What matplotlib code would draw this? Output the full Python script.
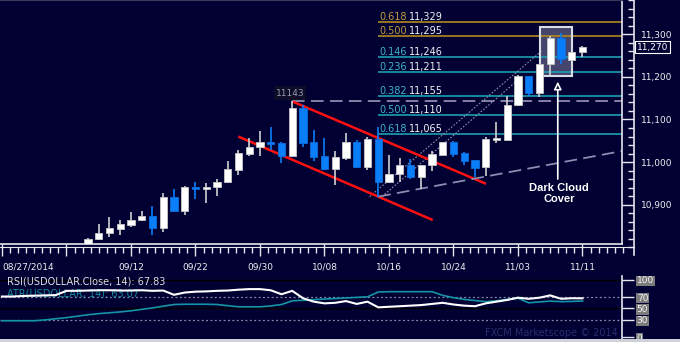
import matplotlib
matplotlib.use("Agg")
import matplotlib.pyplot as plt
import numpy as np
import pandas as pd
from matplotlib.patches import Rectangle
from matplotlib.ticker import FixedLocator, MultipleLocator, FuncFormatter

BG = "#000033"
BLUE = "#0a7df8"
W, H = 680, 342

# trading days shown on the axis; candles begin on 2014-09-08 (index 8)
days = pd.bdate_range("2014-08-27", "2014-11-11")
first_candle = 8

opens = [10805, 10819, 10834, 10844, 10853, 10863, 10874, 10845, 10919, 10885,
         10942, 10937, 10942, 10953, 10982, 11019, 11036, 11047, 11044, 11014,
         11126, 11046, 11014, 10983, 11010, 11047, 10988, 11054, 10953, 10972,
         10992, 10966, 10992, 11017, 11047, 11021, 11005, 10988, 11052, 11052,
         11134, 11201, 11163, 11230, 11291, 11240, 11259]
highs = [10821, 10855, 10872, 10864, 10883, 10886, 10897, 10927, 10936, 10943,
         10953, 10950, 10961, 11003, 11028, 11056, 11074, 11082, 11048, 11143,
         11134, 11075, 11056, 11025, 11068, 11052, 11060, 11083, 11017, 11009,
         11007, 10994, 11025, 11048, 11050, 11023, 11006, 11058, 11095, 11154,
         11205, 11202, 11231, 11296, 11302, 11271, 11272]
lows = [10798, 10816, 10823, 10829, 10847, 10862, 10829, 10837, 10884, 10876,
        10914, 10903, 10920, 10952, 10970, 11015, 11014, 11028, 10999, 11013,
        11035, 11003, 10982, 10946, 11005, 10986, 10981, 10919, 10951, 10954,
        10960, 10936, 10980, 11016, 11011, 10993, 10966, 10967, 11044, 11051,
        11132, 11155, 11152, 11201, 11230, 11239, 11246]
closes = [10820, 10834, 10845, 10855, 10864, 10874, 10846, 10919, 10885, 10942,
          10937, 10942, 10953, 10983, 11021, 11036, 11047, 11042, 11015, 11126,
          11044, 11013, 10983, 11011, 11047, 10988, 11054, 10953, 10972, 10993,
          10966, 10993, 11018, 11047, 11018, 11003, 10986, 11054, 11056, 11134,
          11201, 11163, 11230, 11291, 11241, 11259, 11270]

rsi = [71, 71, 72, 72.5, 73, 73.5, 81, 81, 81.5, 82, 82, 81.5, 81.5, 82, 81,
       81.5, 74, 78, 79.5, 80, 81, 81.5, 83, 84, 84, 82, 75, 81, 68, 62, 59,
       60, 63, 58, 62, 52, 53, 54, 55, 56, 58, 60, 57, 55, 54, 59, 62, 65, 69,
       67, 69, 73, 67, 68, 67.83]
atr = [28.5, 28.5, 28.5, 28.5, 30, 32, 34, 36.5, 39, 41, 42.5, 44, 46, 48.5,
       51, 54, 57, 57.5, 57.5, 57.5, 57, 55, 53, 53, 53, 54.5, 57, 63.5, 64.5,
       65.5, 66.5, 67.5, 68.5, 69.5, 70.5, 79, 79.5, 79.5, 79.5, 79.5, 79.5,
       73, 69, 66, 64, 62, 63.5, 66, 68, 60, 61.5, 63, 62, 62.5, 63.07]

# fibonacci levels drawn from the 10/15 low
fib_start = 35
fib_ratios = ["0.618", "0.500", "0.146", "0.236", "0.382", "0.500", "0.618"]
fib_prices = [11329, 11295, 11246, 11211, 11155, 11110, 11065]
fib_gold = [True, True, False, False, False, False, False]

swing_high_idx, swing_high = 27, 11143
channel_upper = [(27.04, 11142), (45.02, 10949)]
channel_lower = [(21.98, 11060), (40.07, 10864)]
support_line = [(35, 10919), (57.7, 11026)]
fib_diagonals = [[(34.2, 10919), (50.3, 11263)], [(35.35, 10919), (48.2, 11197)]]
pattern_box = (50.05, 53.05, 11202, 11316)
pattern_arrow = (51.7, 10960, 11189)

x_idx = np.arange(len(days))
c_idx = x_idx[first_candle:]
xlim = (-2 / 10.75, 620 / 10.75)
ylim = (10807.7, 11380.5)


def box(x0, y0, x1, y1):
    return [x0 / W, 1 - y1 / H, (x1 - x0) / W, (y1 - y0) / H]


fig = plt.figure(figsize=(6.8, 3.42), dpi=100, facecolor=BG)

ax = fig.add_axes(box(0, 0, 622, 244), facecolor=BG)
ax.set_xlim(*xlim)
ax.set_ylim(*ylim)
for side in ("left",):
    ax.spines[side].set_visible(False)
ax.spines["top"].set_color("#3a3a5c")
ax.spines["right"].set_color("#e6e6ee")
ax.spines["bottom"].set_color("#e6e6ee")
ax.spines["right"].set_linewidth(1.2)
ax.spines["bottom"].set_linewidth(1.2)

# candles
o = np.array(opens); c = np.array(closes)
up = c >= o
for mask, face, edge, wick in ((up, "white", "#c8c8c8", "#d2d2d2"),
                               (~up, BLUE, "#0a6ee0", BLUE)):
    ax.vlines(c_idx[mask], np.array(lows)[mask], np.array(highs)[mask],
              color=wick, lw=1.2, zorder=3)
    ax.bar(c_idx[mask], (c - o)[mask], bottom=o[mask], width=0.68,
           color=face, edgecolor=edge, linewidth=0.6, zorder=4)

# fibonacci lines and labels
for ratio, price, gold in zip(fib_ratios, fib_prices, fib_gold):
    lc = "#b08a1e" if gold else "#1c9fb2"
    tc = "#c49c3c" if gold else "#3cb6c8"
    ax.hlines(price, fib_start, xlim[1], color=lc, lw=1.2, zorder=2)
    ax.annotate(ratio, xy=(fib_start, price), xytext=(1, 0),
                textcoords="offset points", ha="left", va="bottom",
                fontsize=7, color=tc, zorder=5)
    ax.annotate(f"{price:,}", xy=(fib_start, price), xytext=(22, 0),
                textcoords="offset points", ha="left", va="bottom",
                fontsize=7, color="#f2f2f2", zorder=5)

# swing high marker
ax.hlines(swing_high, swing_high_idx, xlim[1], color="#8c8cb0", lw=1.3,
          linestyles=(0, (7, 3.5)), zorder=2)
ax.text(swing_high_idx - 0.2, 11162, str(swing_high), ha="center", va="center",
        fontsize=6.5, color="#9a9ab2", zorder=5,
        bbox=dict(fc="#0c0c26", ec="none", pad=1.5))

# trend lines
for pts, col, lw, ls in ((channel_upper, "#ff1010", 1.8, "-"),
                         (channel_lower, "#ff1010", 1.8, "-"),
                         (support_line, "#8c8cb0", 1.3, (0, (7, 3.5)))):
    xs, ys = zip(*pts)
    ax.plot(xs, ys, color=col, lw=lw, ls=ls, zorder=2.5, solid_capstyle="butt")
for pts in fib_diagonals:
    xs, ys = zip(*pts)
    ax.plot(xs, ys, color="#9090aa", lw=0.8, ls=(0, (1.5, 1.5)), zorder=2.2)

# pattern highlight
bx0, bx1, by0, by1 = pattern_box
ax.add_patch(Rectangle((bx0, by0), bx1 - bx0, by1 - by0, fc="#9a9ab4",
                       alpha=0.45, ec="none", zorder=1.5))
ax.add_patch(Rectangle((bx0, by0), bx1 - bx0, by1 - by0, fill=False,
                       ec="#dcdce4", lw=1.5, zorder=3.5))
axx, ay0, ay1 = pattern_arrow
ax.annotate("", xy=(axx, ay1), xytext=(axx, ay0), zorder=5,
            arrowprops=dict(arrowstyle="-|>,head_length=0.45,head_width=0.22",
                            fc=BG, ec="white", lw=1.2, shrinkA=0, shrinkB=0))
ax.text(axx + 0.1, 10951, "Dark Cloud\nCover", ha="center", va="top",
        color="white", fontsize=8, fontweight="bold", family="Liberation Sans",
        linespacing=1.15, zorder=5)

# x axis: major ticks with date labels
majors = list(range(0, len(days), 6))
labels = []
for i in majors:
    if i == 0:
        labels.append(days[i].strftime("%m/%d/%Y"))
    elif i == 6:
        labels.append("")
    else:
        labels.append(days[i].strftime("%m/%d"))
ax.xaxis.set_major_locator(FixedLocator(majors))
ax.set_xticklabels(labels)
ax.tick_params(axis="x", which="major", direction="out", length=8.6, width=1,
               color="#e6e6ee", labelsize=6.5, labelcolor="#f0f0f0", pad=4.5)
ax.get_xticklabels()[0].set_ha("left")
ax.tick_params(axis="y", which="major", left=False, right=True,
               labelleft=False, direction="out", length=8.4, width=1,
               color="#e6e6ee")
ax.yaxis.set_major_locator(MultipleLocator(100))

# x ruler under the price panel
axr = fig.add_axes(box(0, 246.5, 633.6, 246.5001), facecolor="none")
axr.set_xlim(xlim[0], xlim[0] + 633.6 / 10.75)
for side in ("top", "left", "right"):
    axr.spines[side].set_visible(False)
axr.spines["bottom"].set_color("#e6e6ee")
axr.set_yticks([])
axr.xaxis.set_major_locator(FixedLocator([]))
axr.xaxis.set_minor_locator(FixedLocator(
    [m + k * 0.75 for m in majors for k in range(1, 8) if m + k * 0.75 < 58]))
axr.tick_params(axis="x", which="minor", direction="out", length=4.3,
                width=1, color="#e6e6ee")

# y ruler with price labels
ayr = fig.add_axes(box(633.6, 0, 633.61, 255), facecolor="none")
ayr.set_ylim(10781.9, 11380.5)
for side in ("top", "bottom", "right"):
    ayr.spines[side].set_visible(False)
ayr.spines["left"].set_color("#e6e6ee")
ayr.spines["left"].set_linewidth(1.2)
ayr.set_xticks([])
ayr.yaxis.set_major_locator(FixedLocator([10900, 11000, 11100, 11200, 11300]))
ayr.yaxis.set_minor_locator(MultipleLocator(20))
ayr.yaxis.set_major_formatter(FuncFormatter(lambda v, p: f"{v:,.0f}"))
ayr.tick_params(axis="y", which="major", left=False, right=False,
                labelleft=False, labelright=True, labelsize=6.5,
                labelcolor="#f0f0f0", pad=2)
ayr.tick_params(axis="y", which="minor", left=True, direction="out",
                length=4.3, width=1, color="#e6e6ee")
ayr.annotate(f"{closes[-1]:,}", xy=(1, closes[-1]),
             xycoords=("axes fraction", "data"), xytext=(2.2, 0),
             textcoords="offset points", ha="left", va="center",
             fontsize=6.5, color="white",
             bbox=dict(fc=BG, ec="white", lw=0.8, pad=1.2))

# oscillator panel
axo = fig.add_axes(box(0, 276, 622, 339), facecolor=BG)
axo.set_xlim(*xlim)
axo.set_ylim(-3.5, 107)
for side in ("top", "left", "bottom"):
    axo.spines[side].set_visible(False)
axo.spines["right"].set_color("#e6e6ee")
axo.spines["right"].set_linewidth(1.2)
axo.set_xticks([])
axo.axhline(100, color="black", lw=1, zorder=1)
axo.axhline(50, color="black", lw=1, zorder=1)
axo.axhline(70, color="#8a8aa8", lw=0.9, ls=(0, (1.5, 2)), zorder=1)
axo.axhline(30, color="#8a8aa8", lw=0.9, ls=(0, (1.5, 2)), zorder=1)
axo.text(7.3 / 622, 0.905, "RSI(USDOLLAR.Close, 14): 67.83",
         transform=axo.transAxes, fontsize=7, color="#dcdce4", va="center",
         zorder=2)
axo.text(7.3 / 622, 0.72, "ATR(USDOLLAR, 14): 63.07",
         transform=axo.transAxes, fontsize=7, color="#128a98", va="center",
         zorder=2)
axo.plot(x_idx, atr, color="#1494a4", lw=1.2, zorder=3)
axo.plot(x_idx, rsi, color="white", lw=1.5, zorder=4)
axo.text(618 / 622, 0.095, "FXCM Marketscope \u00a9 2014",
         transform=axo.transAxes, fontsize=7, color="#2c2c6c", ha="right",
         va="center", zorder=2)
axo.yaxis.set_major_locator(FixedLocator([0, 30, 50, 70, 100]))
axo.tick_params(axis="y", left=False, right=True, labelleft=False,
                labelright=True, direction="out", length=8.6, width=1,
                color="#e6e6ee", labelsize=6.5, labelcolor="#f4f4f4", pad=2)
for lbl in axo.get_yticklabels():
    lbl.set_bbox(dict(fc="#7c7c7c", ec="none", pad=0.6))

# light strip along the bottom edge
fig.add_artist(Rectangle((0, 0), 1, 3 / H, transform=fig.transFigure,
                         fc="#cfcfd8", ec="none"))

fig.savefig("out.png", dpi=100, facecolor=BG)
